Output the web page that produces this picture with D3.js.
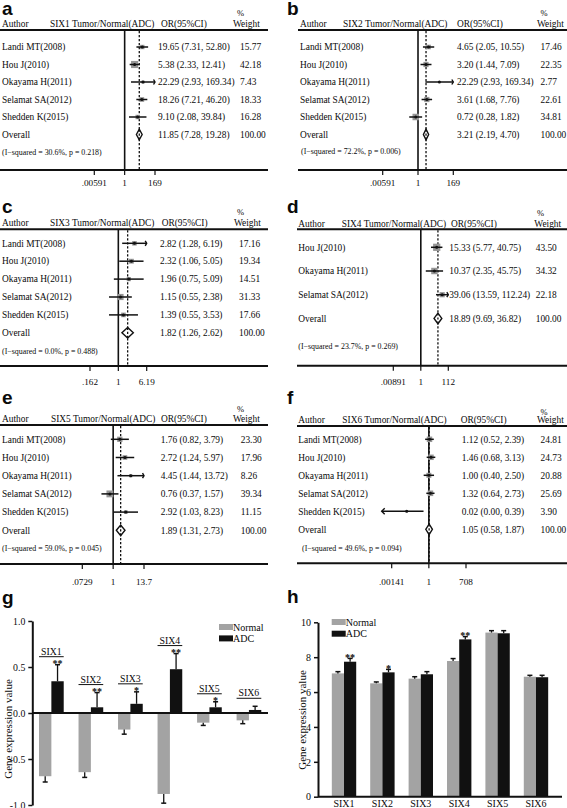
<!DOCTYPE html>
<html><head><meta charset="utf-8">
<script src="https://cdn.jsdelivr.net/npm/d3@7"></script>
<style>
body{margin:0;background:#fff}
svg{display:block}
text{font-family:"Liberation Serif","Times New Roman",serif;fill:#0a0a0a}
</style>
</head><body>
<svg id="chart" width="567" height="808"></svg>
<script>
// ---------------- DATA ----------------
const studies5 = ["Landi MT(2008)","Hou J(2010)","Okayama H(2011)","Selamat SA(2012)","Shedden K(2015)"];
const studies4 = ["Hou J(2010)","Okayama H(2011)","Selamat SA(2012)"];

const six1OR = [19.65,5.38,22.29,18.26,9.10];
const six1Lo = [7.31,2.33,2.93,7.21,2.08];
const six1Hi = [52.80,12.41,169.34,46.20,39.84];
const six1W  = [15.77,42.18,7.43,18.33,16.28];
const six1Overall = [11.85,7.28,19.28];
const six1Het = "(I\u2212squared = 30.6%, p = 0.218)";
const six1Ticks = [0.00591,1,169];
const six1TickLabels = [".00591","1","169"];

const six2OR = [4.65,3.20,22.29,3.61,0.72];
const six2Lo = [2.05,1.44,2.93,1.68,0.28];
const six2Hi = [10.55,7.09,169.34,7.76,1.82];
const six2W  = [17.46,22.35,2.77,22.61,34.81];
const six2Overall = [3.21,2.19,4.70];
const six2Het = "(I\u2212squared = 72.2%, p = 0.006)";
const six2Ticks = [0.00591,1,169];
const six2TickLabels = [".00591","1","169"];

const six3OR = [2.82,2.32,1.96,1.15,1.39];
const six3Lo = [1.28,1.06,0.75,0.55,0.55];
const six3Hi = [6.19,5.05,5.09,2.38,3.53];
const six3W  = [17.16,19.34,14.51,31.33,17.66];
const six3Overall = [1.82,1.26,2.62];
const six3Het = "(I\u2212squared = 0.0%, p = 0.488)";
const six3Ticks = [0.162,1,6.19];
const six3TickLabels = [".162","1","6.19"];

const six4OR = [15.33,10.37,39.06];
const six4Lo = [5.77,2.35,13.59];
const six4Hi = [40.75,45.75,112.24];
const six4W  = [43.50,34.32,22.18];
const six4Overall = [18.89,9.69,36.82];
const six4Het = "(I\u2212squared = 23.7%, p = 0.269)";
const six4Ticks = [0.00891,1,112];
const six4TickLabels = [".00891","1","112"];

const six5OR = [1.76,2.72,4.45,0.76,2.92];
const six5Lo = [0.82,1.24,1.44,0.37,1.03];
const six5Hi = [3.79,5.97,13.72,1.57,8.23];
const six5W  = [23.30,17.96,8.26,39.34,11.15];
const six5Overall = [1.89,1.31,2.73];
const six5Het = "(I\u2212squared = 59.0%, p = 0.045)";
const six5Ticks = [0.0729,1,13.7];
const six5TickLabels = [".0729","1","13.7"];

const six6OR = [1.12,1.46,1.00,1.32,0.02];
const six6Lo = [0.52,0.68,0.40,0.64,0.00];
const six6Hi = [2.39,3.13,2.50,2.73,0.39];
const six6W  = [24.81,24.73,20.88,25.69,3.90];
const six6Overall = [1.05,0.58,1.87];
const six6Het = "(I\u2212squared = 49.6%, p = 0.094)";
const six6Ticks = [0.00141,1,708];
const six6TickLabels = [".00141","1","708"];

const genes = ["SIX1","SIX2","SIX3","SIX4","SIX5","SIX6"];
const groups = ["Normal","ADC"];

// panel g (log-ratio expression)
const gNormal = [-0.687,-0.643,-0.18,-0.88,-0.105,-0.08];
const gNormalErr = [0.063,0.057,0.05,0.10,0.03,0.036];
const gADC = [0.345,0.062,0.10,0.476,0.062,0.033];
const gADCErr = [0.18,0.16,0.13,0.17,0.06,0.04];
const gStars = ["**","**","*","**","*",""];
const gTicks = [-1,-0.5,0,0.5,1];
const gTickLabels = ["-1.0","-0.5","0.0","0.5","1.0"];

// panel h (expression)
const hNormal = [7.07,6.50,6.77,7.78,9.41,6.88];
const hNormalErr = [0.10,0.08,0.11,0.14,0.11,0.08];
const hADC = [7.74,7.13,7.02,9.02,9.37,6.85];
const hADCErr = [0.19,0.17,0.15,0.16,0.15,0.11];
const hStars = ["**","*","","**","",""];
const hTicks = [0,2,4,6,8,10];

// ---------------- DRAW ----------------
const svg = d3.select("#chart");
svg.append("rect").attr("width",567).attr("height",808).attr("fill","#fff");

const forestData = [
  {gene:"SIX1", studies:studies5, or:six1OR, lo:six1Lo, hi:six1Hi, w:six1W, overall:six1Overall, het:six1Het, ticks:six1Ticks, tickLabels:six1TickLabels},
  {gene:"SIX2", studies:studies5, or:six2OR, lo:six2Lo, hi:six2Hi, w:six2W, overall:six2Overall, het:six2Het, ticks:six2Ticks, tickLabels:six2TickLabels},
  {gene:"SIX3", studies:studies5, or:six3OR, lo:six3Lo, hi:six3Hi, w:six3W, overall:six3Overall, het:six3Het, ticks:six3Ticks, tickLabels:six3TickLabels},
  {gene:"SIX4", studies:studies4, or:six4OR, lo:six4Lo, hi:six4Hi, w:six4W, overall:six4Overall, het:six4Het, ticks:six4Ticks, tickLabels:six4TickLabels},
  {gene:"SIX5", studies:studies5, or:six5OR, lo:six5Lo, hi:six5Hi, w:six5W, overall:six5Overall, het:six5Het, ticks:six5Ticks, tickLabels:six5TickLabels},
  {gene:"SIX6", studies:studies5, or:six6OR, lo:six6Lo, hi:six6Hi, w:six6W, overall:six6Overall, het:six6Het, ticks:six6Ticks, tickLabels:six6TickLabels}
];

const layouts = [
 {letter:"a", lx:2, ly:15, hdrY:23.3, pctY:12.7, hline:30, row0:47, rowStep:17.5, noteY:152.5, axisY:170, tickY:182.3, x0:0, x1:268, authorX:2, geneX:50, orX:161, estX:158, wX:240, wHdrX:233, pctX:237, noteX:2, range:[94.3,155]},
 {letter:"b", lx:287, ly:15, hdrY:23.3, pctY:12.7, hline:30, row0:47, rowStep:17.5, noteY:151.5, axisY:170, tickY:182.3, x0:298, x1:567, authorX:300, geneX:343, orX:457, estX:457, wX:540.5, wHdrX:537, pctX:540.5, noteX:301, range:[382.7,453.3]},
 {letter:"c", lx:2, ly:213, hdrY:222.7, pctY:211.7, hline:229.3, row0:243.3, rowStep:17.9, noteY:351, axisY:366, tickY:381.7, x0:0, x1:268, authorX:2, geneX:50, orX:161.7, estX:160, wX:239, wHdrX:234, pctX:237, noteX:2, range:[90,146.7]},
 {letter:"d", lx:287, ly:213, hdrY:224, pctY:212.7, hline:229.3, row0:247.3, rowStep:23.7, noteY:346, axisY:365.7, tickY:381.7, x0:297, x1:567, authorX:298.3, geneX:341.7, orX:451, estX:449.3, wX:535.7, wHdrX:534.3, pctX:537, noteX:298.3, range:[393.3,448.3]},
 {letter:"e", lx:2, ly:403.5, hdrY:418.3, pctY:409, hline:425, row0:439.3, rowStep:18.2, noteY:548, axisY:564, tickY:581.7, x0:0, x1:268, authorX:2, geneX:51, orX:161, estX:160.7, wX:240.7, wHdrX:233, pctX:237, noteX:2, range:[82.3,144]},
 {letter:"f", lx:287, ly:403.5, hdrY:420, pctY:411.7, hline:426, row0:439.3, rowStep:18, noteY:548.3, axisY:563.3, tickY:581.7, x0:297, x1:567, authorX:298.3, geneX:342.3, orX:460.7, estX:461.7, wX:540.5, wHdrX:537, pctX:540.5, noteX:302, range:[391.7,466]}
];

const FS = 9.4;
function panelLetter(t, x, y){
  svg.append("text").attr("x",x).attr("y",y).text(t)
    .style("font-family","'Liberation Sans',Arial,sans-serif").style("font-weight","bold")
    .style("font-size","19px");
}
const fmt2 = d3.format(".2f");

function forest(d, L){
  const g = svg.append("g");
  panelLetter(L.letter, L.lx, L.ly);
  const x = d3.scaleLog().domain([d.ticks[0], d.ticks[2]]).range(L.range);
  const minX = L.range[0]-10, maxX = L.range[1]+10;
  const px = v => v <= 0 ? minX : Math.max(minX, Math.min(maxX, x(v)));
  const txt = (xx,yy,s,size) => g.append("text").attr("x",xx).attr("y",yy).attr("dy","0.35em")
      .style("font-size",(size||FS)+"px").text(s);

  // header
  txt(L.authorX, L.hdrY, "Author");
  txt(L.geneX, L.hdrY, d.gene + " Tumor/Normal(ADC)");
  txt(L.orX, L.hdrY, "OR(95%CI)");
  txt(L.pctX, L.pctY, "%", 8.5);
  txt(L.wHdrX, L.hdrY, "Weight");
  g.append("line").attr("x1",L.x0).attr("x2",L.x1).attr("y1",L.hline).attr("y2",L.hline)
    .attr("stroke","#111").attr("stroke-width",2);
  g.append("line").attr("x1",L.x0).attr("x2",L.x1).attr("y1",L.axisY).attr("y2",L.axisY)
    .attr("stroke","#111").attr("stroke-width",2);
  // vertical null line
  g.append("line").attr("x1",x(1)).attr("x2",x(1)).attr("y1",L.hline).attr("y2",L.axisY)
    .attr("stroke","#111").attr("stroke-width",1.6);
  // ticks
  d.ticks.forEach((t,i)=>{
    g.append("line").attr("x1",x(t)).attr("x2",x(t)).attr("y1",L.axisY).attr("y2",L.axisY+5)
      .attr("stroke","#111").attr("stroke-width",1.2);
    g.append("text").attr("x",x(t)).attr("y",L.tickY).attr("dy","0.35em").attr("text-anchor","middle")
      .style("font-size","9.2px").text(d.tickLabels[i]);
  });
  // dotted overall line
  g.append("line").attr("x1",x(d.overall[0])).attr("x2",x(d.overall[0]))
    .attr("y1",L.hline+1).attr("y2",L.axisY)
    .attr("stroke","#111").attr("stroke-width",1.3).attr("stroke-dasharray","2.2,1.8");

  // studies
  d.studies.forEach((s,i)=>{
    const y = L.row0 + i*L.rowStep;
    txt(L.authorX, y, s);
    txt(L.estX, y, fmt2(d.or[i])+" ("+fmt2(d.lo[i])+", "+fmt2(d.hi[i])+")");
    txt(L.wX, y, fmt2(d.w[i]));
    const side = Math.sqrt(d.w[i])*1.1;
    g.append("rect").attr("x",x(d.or[i])-side/2).attr("y",y-side/2).attr("width",side).attr("height",side)
      .attr("fill","#969696");
    const xl = px(d.lo[i]), xh = px(d.hi[i]);
    g.append("line").attr("x1",xl).attr("x2",xh).attr("y1",y).attr("y2",y)
      .attr("stroke","#111").attr("stroke-width",1.5);
    g.append("circle").attr("cx",x(d.or[i])).attr("cy",y).attr("r",1.5).attr("fill","#111");
    if (d.hi[i] >= d.ticks[2]) {
      g.append("path").attr("d",`M${xh-1.5},${y-2.5}L${xh},${y}L${xh-1.5},${y+2.5}`)
        .attr("fill","none").attr("stroke","#111").attr("stroke-width",1.4);
    }
    if (d.lo[i] <= d.ticks[0]) {
      g.append("path").attr("d",`M${xl+3},${y-3}L${xl},${y}L${xl+3},${y+3}`)
        .attr("fill","none").attr("stroke","#111").attr("stroke-width",1.4);
    }
  });
  // overall
  const yo = L.row0 + d.studies.length*L.rowStep;
  txt(L.authorX, yo, "Overall");
  txt(L.estX, yo, fmt2(d.overall[0])+" ("+fmt2(d.overall[1])+", "+fmt2(d.overall[2])+")");
  txt(L.wX, yo, "100.00");
  const xo = x(d.overall[0]), xol = x(d.overall[1]), xoh = x(d.overall[2]);
  g.append("path").attr("d",`M${xol},${yo}L${xo},${yo-5.3}L${xoh},${yo}L${xo},${yo+5.3}Z`)
    .attr("fill","#fff").attr("stroke","#111").attr("stroke-width",1.4);
  g.append("line").attr("x1",xo).attr("x2",xo).attr("y1",yo-5).attr("y2",yo+5)
    .attr("stroke","#111").attr("stroke-width",1.3).attr("stroke-dasharray","2.2,1.8");
  txt(L.noteX, L.noteY, d.het, 7.9);
}

forestData.forEach((d,i)=>forest(d, layouts[i]));

// ---------- panel g ----------
panelLetter("g", 2, 603.5);
{
  const g = svg.append("g");
  const x0 = d3.scaleBand().domain(genes).range([32.3,268]).paddingInner(0.375).paddingOuter(0.17);
  const x1 = d3.scaleBand().domain(groups).range([0, x0.bandwidth()]);
  const y = d3.scaleLinear().domain([-1,1]).range([805,621]);
  const bw = x1.bandwidth();
  genes.forEach((gene,i)=>{
    const xn = x0(gene)+x1("Normal"), xa = x0(gene)+x1("ADC");
    g.append("rect").attr("x",xn).attr("width",bw).attr("y",y(0)).attr("height",y(gNormal[i])-y(0)).attr("fill","#a3a3a3");
    const ne = y(gNormal[i]-gNormalErr[i]);
    g.append("line").attr("x1",xn+bw/2).attr("x2",xn+bw/2).attr("y1",y(gNormal[i])).attr("y2",ne).attr("stroke","#111").attr("stroke-width",1.3);
    g.append("line").attr("x1",xn+bw/2-2.5).attr("x2",xn+bw/2+2.5).attr("y1",ne).attr("y2",ne).attr("stroke","#111").attr("stroke-width",1.5);
    g.append("rect").attr("x",xa).attr("width",bw).attr("y",y(gADC[i])).attr("height",y(0)-y(gADC[i])).attr("fill","#111");
    const ae = y(gADC[i]+gADCErr[i]);
    g.append("line").attr("x1",xa+bw/2).attr("x2",xa+bw/2).attr("y1",y(gADC[i])).attr("y2",ae).attr("stroke","#111").attr("stroke-width",1.3);
    g.append("line").attr("x1",xa+bw/2-2.5).attr("x2",xa+bw/2+2.5).attr("y1",ae).attr("y2",ae).attr("stroke","#111").attr("stroke-width",1.5);
    if (gStars[i]) g.append("text").attr("x",xa+bw/2).attr("y",ae+2.5).attr("text-anchor","middle")
      .style("font-size","10px").style("font-weight","bold").text(gStars[i]);
    const ly = ae - 8;
    g.append("line").attr("x1",x0(gene)).attr("x2",x0(gene)+x0.bandwidth()).attr("y1",ly).attr("y2",ly)
      .attr("stroke","#111").attr("stroke-width",1);
    g.append("text").attr("x",x0(gene)+x0.bandwidth()/2).attr("y",ly-1.8).attr("text-anchor","middle")
      .style("font-size","9.8px").text(gene);
  });
  g.append("line").attr("x1",32.3).attr("x2",268).attr("y1",y(0)).attr("y2",y(0)).attr("stroke","#111").attr("stroke-width",2);
  const ax = g.append("g").attr("transform","translate(32.3,0)")
    .call(d3.axisLeft(y).tickValues(gTicks).tickFormat((d,i)=>gTickLabels[i]).tickSize(4).tickSizeOuter(0).tickPadding(3));
  ax.select(".domain").attr("stroke","#111").attr("stroke-width",2);
  ax.selectAll(".tick line").attr("stroke","#111").attr("stroke-width",1.5);
  ax.selectAll(".tick text").style("font-size","9.8px").style("font-family","'Liberation Serif',serif").attr("fill","#111");
  g.append("text").attr("transform","translate(8.5,729) rotate(-90)").attr("text-anchor","middle").attr("dy","0.35em")
    .style("font-size","11px").text("Gene expression value");
  const lgColors = ["#a3a3a3","#111"];
  groups.forEach((k,i)=>{
    const yy = 627 + i*11.4;
    g.append("rect").attr("x",219).attr("y",yy-3).attr("width",14).attr("height",6).attr("fill",lgColors[i]);
    g.append("text").attr("x",233).attr("y",yy).attr("dy","0.35em").style("font-size","10px").text(k);
  });
}

// ---------- panel h ----------
panelLetter("h", 287, 602.5);
{
  const g = svg.append("g");
  const x0 = d3.scaleBand().domain(genes).range([318,562]).paddingInner(0.365).paddingOuter(0.36);
  const x1 = d3.scaleBand().domain(groups).range([0, x0.bandwidth()]);
  const y = d3.scaleLinear().domain([0,10]).range([796.7,622.3]);
  const bw = x1.bandwidth();
  const vals = [hNormal, hADC], errs = [hNormalErr, hADCErr], cols = ["#a3a3a3","#111"];
  genes.forEach((gene,i)=>{
    groups.forEach((k,j)=>{
      const xx = x0(gene)+x1(k);
      const v = vals[j][i], e = y(v+errs[j][i]);
      g.append("rect").attr("x",xx).attr("width",bw).attr("y",y(v)).attr("height",y(0)-y(v)).attr("fill",cols[j]);
      g.append("line").attr("x1",xx+bw/2).attr("x2",xx+bw/2).attr("y1",y(v)).attr("y2",e).attr("stroke","#111").attr("stroke-width",1.3);
      g.append("line").attr("x1",xx+bw/2-2.5).attr("x2",xx+bw/2+2.5).attr("y1",e).attr("y2",e).attr("stroke","#111").attr("stroke-width",1.5);
      if (j===1 && hStars[i]) g.append("text").attr("x",xx+bw/2).attr("y",e+2.5).attr("text-anchor","middle")
        .style("font-size","10px").style("font-weight","bold").text(hStars[i]);
    });
  });
  const ay = g.append("g").attr("transform","translate(318,0)")
    .call(d3.axisLeft(y).tickValues(hTicks).tickSize(4).tickSizeOuter(0).tickPadding(3));
  ay.select(".domain").attr("stroke","#111").attr("stroke-width",2);
  ay.selectAll(".tick line").attr("stroke","#111").attr("stroke-width",1.5);
  ay.selectAll(".tick text").style("font-size","10px").style("font-family","'Liberation Serif',serif").attr("fill","#111");
  const axb = g.append("g").attr("transform","translate(0,796.7)")
    .call(d3.axisBottom(x0).tickSize(0).tickPadding(3).tickSizeOuter(0));
  axb.select(".domain").attr("stroke","#111").attr("stroke-width",2).attr("d","M318,0H562");
  axb.selectAll(".tick text").style("font-size","10px").style("font-family","'Liberation Serif',serif").attr("fill","#111");
  g.append("text").attr("transform","translate(302,720) rotate(-90)").attr("text-anchor","middle").attr("dy","0.35em")
    .style("font-size","11px").text("Gene expression value");
  const lgColors = ["#a3a3a3","#111"];
  groups.forEach((k,i)=>{
    const yy = 622 + i*11.7;
    g.append("rect").attr("x",331.7).attr("y",yy-3).attr("width",14).attr("height",6).attr("fill",lgColors[i]);
    g.append("text").attr("x",345.7).attr("y",yy).attr("dy","0.35em").style("font-size","10px").text(k);
  });
}
</script>
</body></html>
